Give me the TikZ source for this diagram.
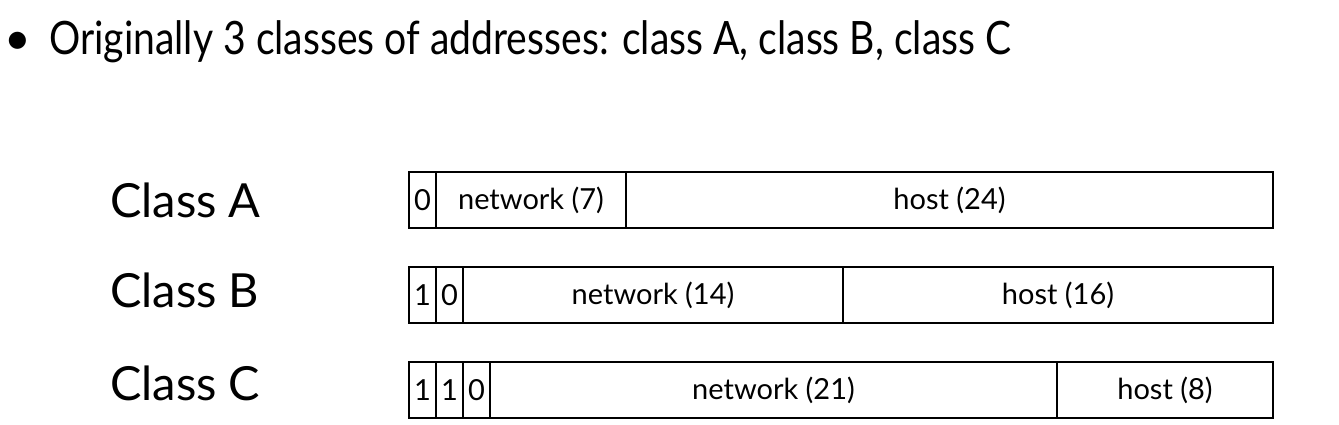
\documentclass[tikz,border=0pt]{standalone}
\usepackage{fontspec}
\setmainfont{Lato}
\begin{document}
\begin{tikzpicture}[x=1pt,y=-1pt,
  cell/.style={draw, line width=1.6pt, minimum height=56pt, inner sep=0pt, outer sep=0pt, anchor=north west, font=\fontsize{29}{29}\selectfont},
  classlbl/.style={anchor=base west, inner sep=0pt, font=\fontsize{47}{47}\selectfont},
  titletext/.style={anchor=base west, inner sep=0pt, font=\fontsize{46}{46}\selectfont}]
\useasboundingbox (0,0) rectangle (1339,424);
% title
\node[titletext] (bul) at (4,54) {•};
\node[titletext] (title) at (49,54) {\scalebox{0.85}[1]{Originally 3 classes of addresses: class A, class B, class C}};
% labels
\node[classlbl] (la) at (110,217) {Class A};
\node[classlbl] (lb) at (110,307) {Class B};
\node[classlbl] (lc) at (110,400) {Class C};
% Class A
\node[cell, minimum width=27pt]  (a1) at (409,172) {0};
\node[cell, minimum width=190pt] (a2) at (436,172) {network (7)};
\node[cell, minimum width=647pt] (a3) at (626,172) {host (24)};
% Class B
\node[cell, minimum width=27pt]  (b1) at (409,267) {1};
\node[cell, minimum width=27pt]  (b2) at (436,267) {0};
\node[cell, minimum width=380pt] (b3) at (463,267) {network (14)};
\node[cell, minimum width=430pt] (b4) at (843,267) {host (16)};
% Class C
\node[cell, minimum width=27pt]  (c1) at (409,362) {1};
\node[cell, minimum width=27pt]  (c2) at (436,362) {1};
\node[cell, minimum width=27pt]  (c3) at (463,362) {0};
\node[cell, minimum width=567pt] (c4) at (490,362) {network (21)};
\node[cell, minimum width=216pt] (c5) at (1057,362) {host (8)};
\end{tikzpicture}
\end{document}
